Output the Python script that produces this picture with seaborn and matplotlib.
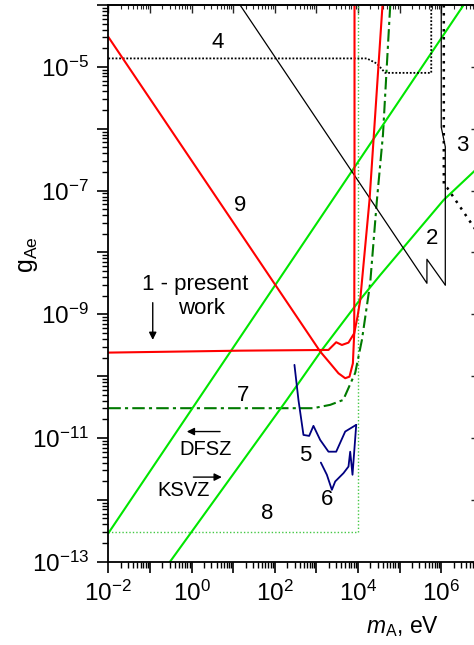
import numpy as np
import pandas as pd
import matplotlib
matplotlib.use("Agg")
import matplotlib.pyplot as plt
import seaborn as sns
from matplotlib.ticker import FixedLocator, FuncFormatter, NullFormatter

sns.set_theme(style="ticks")
plt.rcParams['font.family'] = ['Liberation Sans', 'DejaVu Sans']
plt.rcParams['mathtext.fontset'] = 'custom'
plt.rcParams['mathtext.rm'] = 'Liberation Sans'
plt.rcParams['mathtext.it'] = 'Liberation Sans:italic'
plt.rcParams['mathtext.bf'] = 'Liberation Sans:bold'

# ---------------- data (m_A in eV, g_Ae) ----------------
present_m = [0.01, 14.7, 1960, 3005, 4120, 5935, 8150, 9780, 11350, 19000, 39000]
present_g = [2.40e-10, 2.58e-10, 2.65e-10, 3.53e-10, 3.19e-10, 3.48e-10, 4.93e-10, 9.15e-10, 1.70e-9, 7.03e-8, 1e-4]

c9_m = [0.01, 1239, 2153, 3411, 4946, 6270, 7570, 8150, 8280, 8280]
c9_g = [3.05e-5, 2.5e-10, 1.61e-10, 1.11e-10, 9.25e-11, 9.8e-11, 1.61e-10, 4.93e-10, 7.0e-8, 1e-4]

c7_m = [0.01, 840, 2153, 4430, 8610, 12480, 19730, 28620, 40000, 59800]
c7_g = [3.03e-11, 3.03e-11, 3.43e-11, 4.12e-11, 1.13e-10, 3.85e-10, 3.2e-9, 7.0e-8, 8.0e-7, 1e-4]

c8_m = [0.01, 1.0e4, 1.0e4]
c8_g = [3.0e-13, 3.0e-13, 1e-4]

c4_m = [0.01, 16440, 28600, 45300, 5.79e5, 5.79e5]
c4_g = [1.37e-5, 1.37e-5, 1.13e-5, 8.0e-6, 8.0e-6, 1e-4]

c2_m = [14.7, 4.56e5, 4.56e5, 1.26e6]
c2_g = [1e-4, 3.17e-9, 7.75e-9, 2.97e-9]

c3_m = [1.26e6, 1.26e6, 1.007e6, 1.007e6]
c3_g = [2.97e-9, 5.1e-7, 1.06e-6, 1e-4]

c3d_m = [1.16e6, 1.16e6, 1.41e6, 6.03e6, 1.2e7]
c3d_g = [1e-4, 1.23e-7, 1.1e-7, 2.6e-8, 1.3e-8]

c5_m = [298, 372, 491, 673, 853, 1238, 1960, 3004, 4945, 9100]
c5_g = [1.52e-10, 4.12e-11, 1.12e-11, 1.08e-11, 1.57e-11, 9.3e-12, 6.0e-12, 6.0e-12, 1.27e-11, 1.63e-11]

c6_m = [1285, 1794, 2366, 2843, 4500, 5935, 6520, 7410, 9100]
c6_g = [4.0e-12, 2.54e-12, 1.45e-12, 1.98e-12, 2.70e-12, 3.45e-12, 6.0e-12, 2.54e-12, 1.63e-11]

dfsz_m = [0.01, 3.47e6]
dfsz_g = [2.88e-13, 1e-4]

ksvz_m = [0.305, 195, 1361, 10330, 34360, 1.146e6, 6.03e6, 1.0e7]
ksvz_g = [1e-13, 4.12e-11, 2.65e-10, 1.6e-9, 4.31e-9, 7.03e-8, 2.01e-7, 2.8e-7]

label_text = ["4", "3", "9", "2", "1 - present", "work", "7", "DFSZ", "KSVZ", "5", "6", "8"]
label_m = [4.35, 3.17e6, 14.7, 6.0e5, 1.25, 1.75, 17.6, 2.13, 0.637, 539, 1794, 66.8]
label_g = [2.5e-5, 5.4e-7, 5.8e-8, 1.69e-8, 3.0e-9, 1.25e-9, 4.9e-11, 6.6e-12, 1.41e-12, 5.3e-12, 1.0e-12, 6.1e-13]
label_size = [16, 16, 16, 16, 16, 16, 16, 14.5, 14.5, 16, 16, 16]

# ---------------- figure ----------------
fig = plt.figure(figsize=(4.74, 6.45), dpi=100)
ax = fig.add_axes([0.2285, 0.1292, 0.7899, 0.8630])
ax.set_xscale('log')
ax.set_yscale('log')

curves = [
    (c8_m, c8_g, dict(color='#44c844', lw=1.0, linestyle=(0, (1, 1.5)))),
    (c7_m, c7_g, dict(color='#007a00', lw=1.5, linestyle=(0, (6, 2, 1.5, 2)))),
    (dfsz_m, dfsz_g, dict(color='#00e600', lw=1.5, linestyle='-')),
    (ksvz_m, ksvz_g, dict(color='#00e600', lw=1.5, linestyle='-')),
    (c4_m, c4_g, dict(color='black', lw=1.3, linestyle=(0, (1, 1)))),
    (c2_m, c2_g, dict(color='black', lw=0.9, linestyle='-')),
    (c3_m, c3_g, dict(color='black', lw=0.9, linestyle='-')),
    (c3d_m, c3d_g, dict(color='black', lw=1.8, linestyle=(0, (1, 2.2)))),
    (c9_m, c9_g, dict(color='#ff0000', lw=1.5, linestyle='-')),
    (present_m, present_g, dict(color='#ff0000', lw=1.5, linestyle='-')),
    (c5_m, c5_g, dict(color='#000080', lw=1.3, linestyle='-')),
    (c6_m, c6_g, dict(color='#000080', lw=1.3, linestyle='-')),
]
for m, g, st in curves:
    df = pd.DataFrame({'m': m, 'g': g})
    sns.lineplot(data=df, x='m', y='g', sort=False, estimator=None, ax=ax,
                 legend=False, **st)

ax.set_xlim(1e-2, 1e7)
ax.set_ylim(1e-13, 1e-4)

for t, m, g, s in zip(label_text, label_m, label_g, label_size):
    ax.text(m, g, t, fontsize=s, ha='center', va='center', color='black')

arrow_kw = dict(arrowstyle='-|>', color='black', lw=1.0, mutation_scale=11, shrinkA=0, shrinkB=0)
ax.annotate('', xy=(0.117, 3.85e-10), xytext=(0.117, 1.54e-9), arrowprops=arrow_kw)
ax.annotate('', xy=(0.77, 1.27e-11), xytext=(4.86, 1.27e-11), arrowprops=arrow_kw)
ax.annotate('', xy=(5.35, 2.33e-12), xytext=(1.11, 2.33e-12), arrowprops=arrow_kw)

# ---------------- axes styling ----------------
def make_fmt(parity):
    def f(v, pos):
        e = int(round(np.log10(v)))
        if e % 2 == parity:
            return r'$10^{%d}$' % e
        return ''
    return f

ax.xaxis.set_major_locator(FixedLocator(10.0 ** np.arange(-2, 8)))
ax.yaxis.set_major_locator(FixedLocator(10.0 ** np.arange(-13, -3)))
minx = [s * 10.0 ** e for e in range(-2, 7) for s in range(2, 10)]
miny = [s * 10.0 ** e for e in range(-13, -4) for s in range(2, 10)]
ax.xaxis.set_minor_locator(FixedLocator(minx))
ax.yaxis.set_minor_locator(FixedLocator(miny))
ax.xaxis.set_major_formatter(FuncFormatter(make_fmt(0)))
ax.yaxis.set_major_formatter(FuncFormatter(make_fmt(1)))
ax.xaxis.set_minor_formatter(NullFormatter())
ax.yaxis.set_minor_formatter(NullFormatter())

ax.tick_params(axis='both', which='major', direction='out', length=8, width=1.2,
               labelsize=17.5, color='black', labelcolor='black', pad=6)
ax.tick_params(axis='both', which='minor', direction='out', length=4, width=1.0, color='black')
for sp in ax.spines.values():
    sp.set_linewidth(1.3)
    sp.set_color('black')

# inward ticks on top and right
top = ax.secondary_xaxis('top')
top.xaxis.set_major_locator(FixedLocator(10.0 ** np.arange(-2, 8)))
top.xaxis.set_minor_locator(FixedLocator(minx))
top.xaxis.set_major_formatter(NullFormatter())
top.xaxis.set_minor_formatter(NullFormatter())
top.tick_params(which='major', direction='in', length=6, width=1.0)
top.tick_params(which='minor', direction='in', length=3, width=0.8)
right = ax.secondary_yaxis('right')
right.yaxis.set_major_locator(FixedLocator(10.0 ** np.arange(-13, -3)))
right.yaxis.set_minor_locator(FixedLocator(miny))
right.yaxis.set_major_formatter(NullFormatter())
right.yaxis.set_minor_formatter(NullFormatter())
right.tick_params(which='major', direction='in', length=9, width=1.0)
right.tick_params(which='minor', direction='in', length=4, width=0.8)

ax.set_xlabel(r'$m_{\mathrm{A}}$, eV', fontsize=16.5, color='black')
ax.xaxis.set_label_coords(0.787, -0.094)
ax.set_ylabel(r'g$_{\mathrm{Ae}}$', fontsize=18, color='black')
ax.yaxis.set_label_coords(-0.182, 0.551)

fig.savefig('out.png', dpi=100)
